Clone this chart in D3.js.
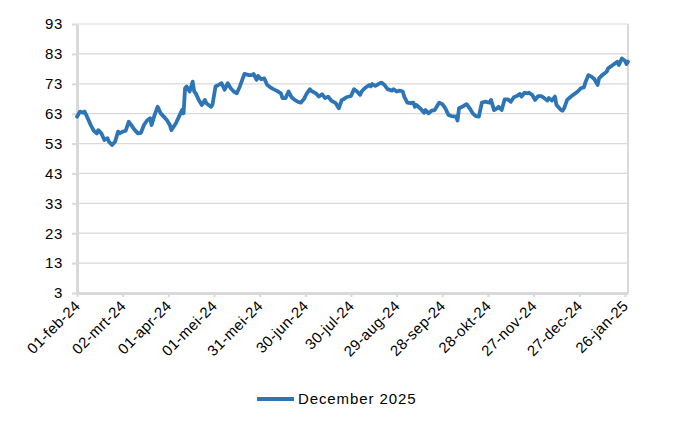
<!DOCTYPE html>
<html><head><meta charset="utf-8">
<script src="https://cdn.jsdelivr.net/npm/d3@7/dist/d3.min.js"></script>
<style>body{margin:0;background:#fff}svg{display:block}</style>
</head><body>
<svg id="c" width="700" height="430"></svg>
<script>
const seriesName = "December 2025";
const dates = [
"2024-02-01","2024-02-03","2024-02-05","2024-02-06","2024-02-08","2024-02-10","2024-02-12","2024-02-14","2024-02-15","2024-02-17",
"2024-02-19","2024-02-21","2024-02-22","2024-02-24","2024-02-26","2024-02-28","2024-02-29","2024-03-02","2024-03-04","2024-03-06",
"2024-03-08","2024-03-10","2024-03-12","2024-03-14","2024-03-16","2024-03-18","2024-03-20","2024-03-21","2024-03-23","2024-03-25",
"2024-03-27","2024-03-29","2024-03-31","2024-04-02","2024-04-03","2024-04-06","2024-04-08","2024-04-10","2024-04-11","2024-04-12",
"2024-04-13","2024-04-15","2024-04-17","2024-04-18","2024-04-19","2024-04-21","2024-04-23","2024-04-25","2024-04-26","2024-04-29",
"2024-04-30","2024-05-02","2024-05-04","2024-05-06","2024-05-08","2024-05-10","2024-05-12","2024-05-14","2024-05-16","2024-05-18",
"2024-05-21","2024-05-24","2024-05-26","2024-05-27","2024-05-29","2024-05-30","2024-06-01","2024-06-03","2024-06-05","2024-06-07",
"2024-06-09","2024-06-11","2024-06-14","2024-06-15","2024-06-17","2024-06-19","2024-06-21","2024-06-23","2024-06-25","2024-06-27",
"2024-06-29","2024-07-01","2024-07-03","2024-07-04","2024-07-07","2024-07-09","2024-07-11","2024-07-13","2024-07-15","2024-07-17",
"2024-07-20","2024-07-22","2024-07-24","2024-07-25","2024-07-27","2024-07-30","2024-08-01","2024-08-03","2024-08-05","2024-08-06",
"2024-08-08","2024-08-11","2024-08-12","2024-08-13","2024-08-15","2024-08-17","2024-08-19","2024-08-21","2024-08-23","2024-08-26",
"2024-08-27","2024-08-29","2024-08-31","2024-09-02","2024-09-03","2024-09-05","2024-09-07","2024-09-09","2024-09-10","2024-09-11",
"2024-09-14","2024-09-16","2024-09-17","2024-09-19","2024-09-21","2024-09-23","2024-09-26","2024-09-28","2024-09-30","2024-10-02",
"2024-10-04","2024-10-07","2024-10-08","2024-10-09","2024-10-11","2024-10-13","2024-10-14","2024-10-16","2024-10-18","2024-10-20",
"2024-10-22","2024-10-24","2024-10-26","2024-10-29","2024-10-30","2024-11-01","2024-11-03","2024-11-04","2024-11-06","2024-11-08",
"2024-11-10","2024-11-12","2024-11-14","2024-11-16","2024-11-18","2024-11-19","2024-11-21","2024-11-23","2024-11-24","2024-11-26",
"2024-11-28","2024-11-30","2024-12-02","2024-12-04","2024-12-06","2024-12-07","2024-12-09","2024-12-11","2024-12-12","2024-12-15",
"2024-12-16","2024-12-17","2024-12-19","2024-12-21","2024-12-23","2024-12-26","2024-12-28","2024-12-30","2024-12-31","2025-01-02",
"2025-01-04","2025-01-06","2025-01-08","2025-01-09","2025-01-11","2025-01-14","2025-01-15","2025-01-18","2025-01-20","2025-01-21",
"2025-01-22","2025-01-24","2025-01-26","2025-01-27","2025-01-28"
];
const values = [
62.0,63.7,63.3,63.7,61.5,59.2,57.3,56.4,57.5,56.4,
54.2,54.8,53.6,52.5,53.6,57.0,56.4,57.0,57.3,60.3,
58.9,57.5,56.4,56.6,59.2,60.7,61.5,59.2,62.6,65.3,
63.1,62.0,60.9,59.2,57.5,59.8,62.0,64.2,63.1,71.5,
72.1,70.4,73.7,70.4,69.8,67.6,65.9,67.6,66.5,65.3,
66.0,72.1,72.6,73.2,71.0,73.2,71.5,70.4,69.8,72.1,
76.3,75.9,75.9,76.3,74.3,75.6,74.5,74.8,72.6,71.8,
71.2,70.7,69.8,68.2,68.2,70.4,68.5,67.6,67.0,66.7,
67.8,69.8,71.2,70.6,69.8,68.7,69.5,68.2,68.7,67.4,
66.5,64.8,67.6,67.8,68.5,68.9,71.2,70.4,69.3,70.4,
71.5,72.6,72.1,72.9,72.3,72.9,73.4,72.6,71.2,70.7,
71.2,70.4,70.7,70.4,68.7,66.7,66.5,66.7,65.3,65.9,
64.5,63.3,64.2,63.1,64.0,64.2,66.7,66.2,64.8,62.6,
62.2,62.0,60.7,64.8,65.3,65.9,66.2,64.8,63.1,62.2,
62.0,66.7,67.0,66.7,67.6,64.2,64.8,65.3,64.2,67.8,
67.8,67.0,68.5,68.9,69.6,68.7,70.0,69.8,70.0,69.3,
67.6,68.9,68.9,68.2,67.4,68.2,67.4,68.7,65.9,64.2,
64.0,64.8,67.6,68.5,69.3,70.4,71.5,71.8,73.4,75.9,
75.4,74.5,72.6,74.8,75.9,77.0,78.2,79.3,80.0,80.4,
79.3,81.5,80.7,79.6,80.4
];
const yTicks = [3,13,23,33,43,53,63,73,83,93];
const xTickDates = ["2024-02-01","2024-03-02","2024-04-01","2024-05-01","2024-05-31","2024-06-30","2024-07-30","2024-08-29","2024-09-28","2024-10-28","2024-11-27","2024-12-27","2025-01-26"];
const xTickLabels = ["01-feb-24","02-mrt-24","01-apr-24","01-mei-24","31-mei-24","30-jun-24","30-jul-24","29-aug-24","28-sep-24","28-okt-24","27-nov-24","27-dec-24","26-jan-25"];
const xDomain = ["2024-02-01","2025-01-28"];

const parse = d3.utcParse("%Y-%m-%d");
const data = dates.map((d,i)=>({date:parse(d), v:values[i]}));
const tickDates = xTickDates.map(parse);
const labelOf = new Map(tickDates.map((d,i)=>[+d, xTickLabels[i]]));

const svg = d3.select("#c");
const FONT = "'Liberation Sans', Arial, sans-serif";
const L = 77, R = 628, T = 24, B = 293;
const x = d3.scaleUtc().domain(xDomain.map(parse)).range([L, R]);
const y = d3.scaleLinear().domain([3, 93]).range([B, T]);

// gridlines
svg.append("g").selectAll("line").data(yTicks.filter(t=>t>3)).join("line")
  .attr("x1", L).attr("x2", R).attr("y1", d=>y(d)).attr("y2", d=>y(d))
  .attr("stroke", "#d9d9d9").attr("stroke-width", 1.2);
// right border
svg.append("line").attr("x1", R).attr("x2", R).attr("y1", T).attr("y2", B)
  .attr("stroke", "#d9d9d9").attr("stroke-width", 2);

// y axis
const gy = svg.append("g").attr("transform", `translate(${L},0)`)
  .call(d3.axisLeft(y).tickValues(yTicks).tickSize(5).tickSizeOuter(0).tickPadding(9).tickFormat(d3.format("d")));
gy.select(".domain").attr("stroke", "#d9d9d9").attr("stroke-width", 3);
gy.selectAll(".tick line").attr("stroke", "#d9d9d9").attr("stroke-width", 2);
gy.selectAll(".tick text").attr("font-family", FONT).attr("font-size", 15)
  .attr("letter-spacing", "0.7px").attr("fill", "#000");

// x axis
const gx = svg.append("g").attr("transform", `translate(0,${B})`)
  .call(d3.axisBottom(x).tickValues(tickDates).tickSize(4).tickSizeOuter(0).tickFormat(d=>labelOf.get(+d)));
gx.select(".domain").attr("stroke", "#d9d9d9").attr("stroke-width", 3);
gx.selectAll(".tick line").attr("stroke", "#d9d9d9").attr("stroke-width", 2);
gx.selectAll(".tick text").attr("font-family", FONT).attr("font-size", 15)
  .attr("letter-spacing", "0.4px").attr("fill", "#000")
  .attr("text-anchor", "end").attr("dy", "0.35em").attr("y", 0)
  .attr("transform", "translate(0,10) rotate(-45)");

// line
svg.append("path").datum(data)
  .attr("fill", "none").attr("stroke", "#2e75b6").attr("stroke-width", 3.8)
  .attr("stroke-linejoin", "round").attr("stroke-linecap", "round")
  .attr("d", d3.line().x(d=>x(d.date)).y(d=>y(d.v)));

// legend
const lg = svg.append("g");
lg.append("line").attr("x1", 257).attr("x2", 294).attr("y1", 399).attr("y2", 399)
  .attr("stroke", "#2e75b6").attr("stroke-width", 3.8);
lg.append("text").attr("x", 298).attr("y", 404).text(seriesName)
  .attr("font-family", FONT).attr("font-size", 15).attr("letter-spacing", "0.9px").attr("fill", "#000");
</script>
</body></html>
